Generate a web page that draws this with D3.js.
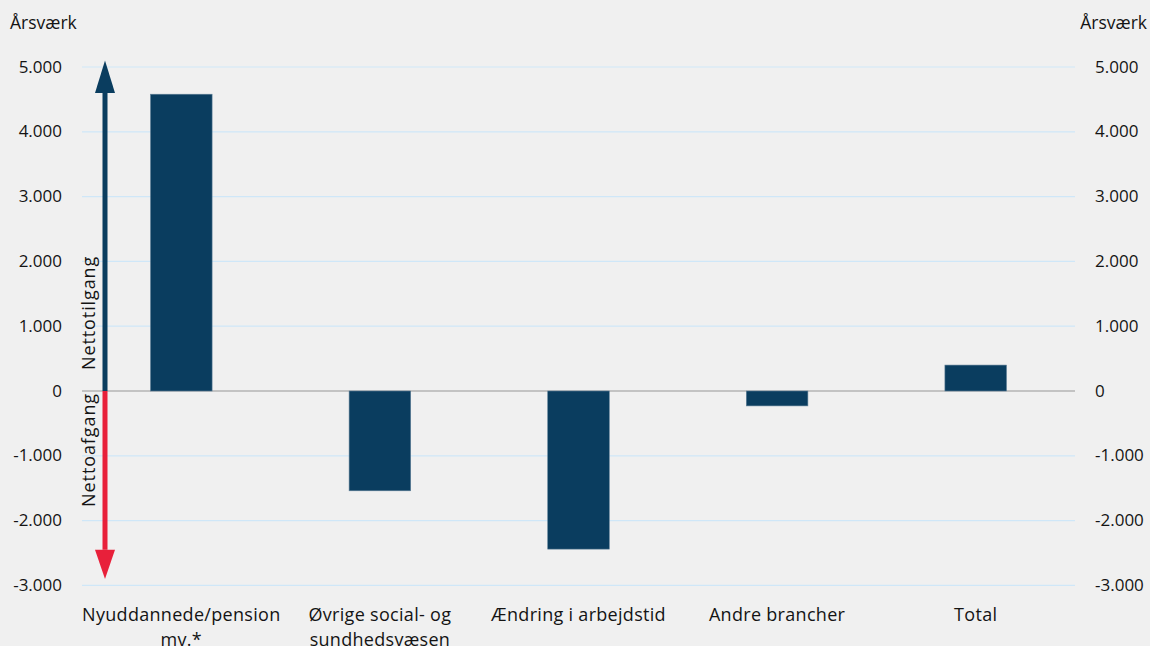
<!DOCTYPE html>
<html><head><meta charset="utf-8">
<script src="https://cdn.jsdelivr.net/npm/d3@7"></script>
<style>
html,body{margin:0;padding:0;background:#f0f0f0;}
svg{display:block;font-family:"Open Sans",sans-serif;}
</style></head>
<body><svg id="c" width="1150" height="646"></svg>
<script>
const categories = [["Nyuddannede/pension","mv.*"],["Øvrige social- og","sundhedsvæsen"],["Ændring i arbejdstid"],["Andre brancher"],["Total"]];
const values = [4580, -1540, -2440, -230, 400];
const tickValues = [-3000,-2000,-1000,0,1000,2000,3000,4000,5000];
const tickLabels = ["-3.000","-2.000","-1.000","0","1.000","2.000","3.000","4.000","5.000"];
const unitLabel = "Årsværk";
const arrowLabels = ["Nettotilgang","Nettoafgang"];

const FONT = "'Open Sans',sans-serif";
const svg = d3.select("#c");
const left = 82, right = 1075;
const y = d3.scaleLinear().domain([-3000,5000]).range([585.4,67]);
const x = d3.scaleBand().domain(d3.range(categories.length)).range([left,right]).paddingInner(0.69).paddingOuter(0.345);

const blue = "#0a3d5f", red = "#e8203a", txt = "#141414";

// gridlines
svg.append("g").selectAll("line").data(tickValues).join("line")
  .attr("x1",left).attr("x2",right)
  .attr("y1",d=>y(d)).attr("y2",d=>y(d))
  .attr("stroke",d=>d===0?"#b4b4b4":"#cfe7f8").attr("stroke-width",d=>d===0?1.6:1.2);

// axis labels
const fmt = d=>tickLabels[tickValues.indexOf(d)];
const la = svg.append("g").attr("transform",`translate(62,0)`)
  .call(d3.axisLeft(y).tickValues(tickValues).tickFormat(fmt).tickSize(0).tickPadding(0));
la.select(".domain").remove();
la.selectAll("text").attr("font-size",17).attr("fill",txt).attr("font-family",FONT).attr("dy","0.3em");
const ra = svg.append("g").attr("transform",`translate(1095,0)`)
  .call(d3.axisRight(y).tickValues(tickValues).tickFormat(fmt).tickSize(0).tickPadding(0));
ra.select(".domain").remove();
ra.selectAll("text").attr("font-size",17).attr("fill",txt).attr("font-family",FONT).attr("dy","0.3em");

svg.append("text").attr("x",10).attr("y",29).attr("font-size",17.5).attr("fill",txt).text(unitLabel);
svg.append("text").attr("x",1147).attr("y",29).attr("text-anchor","end").attr("font-size",17.5).attr("fill",txt).text(unitLabel);

// bars
svg.append("g").selectAll("rect").data(values).join("rect")
  .attr("x",(d,i)=>x(i)).attr("width",x.bandwidth())
  .attr("y",d=>y(Math.max(0,d))).attr("height",d=>Math.abs(y(d)-y(0)))
  .attr("fill",blue).attr("stroke","#5d7e96").attr("stroke-width",0.6);

// category labels
const cl = svg.append("g").selectAll("text").data(categories).join("text")
  .attr("x",(d,i)=>x(i)+x.bandwidth()/2).attr("y",621)
  .attr("text-anchor","middle").attr("font-size",18).attr("letter-spacing",0.3).attr("fill",txt);
cl.selectAll("tspan").data(d=>d).join("tspan")
  .attr("x",function(){return this.parentNode.getAttribute("x");})
  .attr("dy",(d,i)=>i===0?0:24.5).text(d=>d);

// arrows
const ax = 105;
svg.append("line").attr("x1",ax).attr("x2",ax).attr("y1",y(0)).attr("y2",y(4600)).attr("stroke",blue).attr("stroke-width",5);
svg.append("path").attr("d",`M${ax-10},${y(4600)} L${ax},${y(5100)} L${ax+10},${y(4600)} Z`).attr("fill",blue);
svg.append("line").attr("x1",ax).attr("x2",ax).attr("y1",y(0)).attr("y2",y(-2450)).attr("stroke",red).attr("stroke-width",5);
svg.append("path").attr("d",`M${ax-10},${y(-2450)} L${ax},${y(-2900)} L${ax+10},${y(-2450)} Z`).attr("fill",red);

svg.append("text").attr("transform",`translate(95,${y(0)-21}) rotate(-90)`).attr("text-anchor","start")
  .attr("font-size",18).attr("letter-spacing",0.9).attr("fill",txt).text(arrowLabels[0]);
svg.append("text").attr("transform",`translate(95,${y(0)+2}) rotate(-90)`).attr("text-anchor","end")
  .attr("font-size",18).attr("letter-spacing",0.9).attr("fill",txt).text(arrowLabels[1]);
</script></body></html>
